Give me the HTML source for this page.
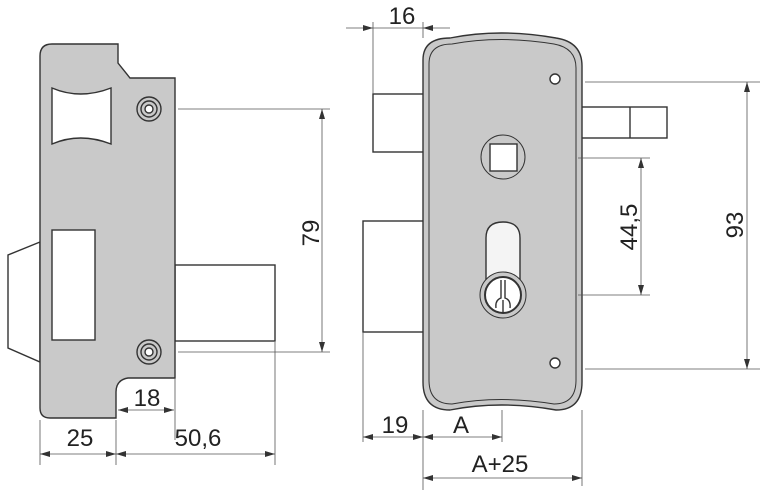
<!DOCTYPE html>
<html><head><style>html,body{margin:0;padding:0;background:#fff}svg{display:block}</style></head>
<body>
<svg width="768" height="492" viewBox="0 0 768 492" xmlns="http://www.w3.org/2000/svg" font-family="Liberation Sans, sans-serif">
<defs>
<marker id="a" markerWidth="10" markerHeight="6" refX="10" refY="3" orient="auto-start-reverse" markerUnits="userSpaceOnUse"><path d="M0,0 L10,3 L0,6 z" fill="#333"/></marker>
</defs>
<g stroke="#333" fill="none" stroke-width="1.4">
<path d="M40,242 L8,255 L8,348 L40,362 Z" fill="#fff"/>
<rect x="175" y="265" width="100" height="76" fill="#fff"/>
<path d="M52,44 L118,44 L118,63 L130,78 L175,78 L175,378 L128,378 Q116,380 116,392 L116,418 L50,418 Q40,418 40,408 L40,56 Q40,44 52,44 Z" fill="#c9c9c9"/>
<path d="M52,88 Q80,100 111,88 L111,144 Q80,132 52,144 Z" fill="#fff"/>
<rect x="52" y="230" width="43" height="110" fill="#fff"/>
<circle cx="149" cy="109" r="12" fill="#c9c9c9"/><circle cx="149" cy="109" r="8"/><circle cx="149" cy="109" r="4" fill="#fff"/>
<circle cx="149" cy="352" r="12" fill="#c9c9c9"/><circle cx="149" cy="352" r="8"/><circle cx="149" cy="352" r="4" fill="#fff"/>
</g>
<g stroke="#555" stroke-width="0.8" fill="none">
<path d="M178,109 H330 M178,352 H330 M175,378 V440 M40,420 V465 M116,420 V465 M275,342 V465"/>
<path d="M322,109 V352" marker-start="url(#a)" marker-end="url(#a)"/>
<path d="M118,410 H174" marker-start="url(#a)" marker-end="url(#a)"/>
<path d="M40,454 H116" marker-start="url(#a)" marker-end="url(#a)"/>
<path d="M116,454 H275" marker-start="url(#a)" marker-end="url(#a)"/>
</g>
<g font-size="24" fill="#222" text-anchor="middle">
<text x="147" y="406">18</text>
<text x="80" y="446">25</text>
<text x="198" y="446">50,6</text>
<text transform="translate(319,233) rotate(-90)">79</text>
</g>
<g stroke="#333" fill="none" stroke-width="1.4">
<rect x="373" y="94" width="52" height="58" fill="#fff"/>
<rect x="363" y="221" width="62" height="111" fill="#fff"/>
<rect x="580" y="107" width="87" height="31" fill="#fff"/>
<path d="M630,107 V138"/>
<path d="M423,60 Q423,38 450,38 Q500,28 556,38 Q582,42 582,66 L582,382 Q582,410 556,410 Q500,400 450,410 Q423,410 423,382 Z" fill="#c9c9c9"/>
<path d="M429,64 Q429,44 452,44 Q500,35 554,44 Q576,48 576,68 L576,380 Q576,404 554,404 Q500,395 452,404 Q429,404 429,380 Z" stroke-width="1"/>
<circle cx="555" cy="79" r="5" fill="#fff"/>
<circle cx="555" cy="363" r="5" fill="#fff"/>
<circle cx="503" cy="157" r="22" stroke-width="1"/>
<rect x="490" y="144" width="27" height="27" fill="#fff"/>
<path d="M486,300 L486,238 Q486,222 503,222 Q520,222 520,238 L520,300" fill="#f4f4f4"/>
<circle cx="503" cy="295" r="23" fill="#c9c9c9" stroke-width="1"/>
<circle cx="503" cy="295" r="18" fill="#fff" stroke-width="2"/>
<path d="M501,280 V298 Q495,300 496,308 M505,280 V298 Q511,300 510,308 M503,300 V312"/>
</g>
<g stroke="#555" stroke-width="0.8" fill="none">
<path d="M373,22 V94 M423,22 V38 M585,82 H760 M585,369 H760 M578,158 H650 M578,295 H650 M363,332 V442 M423,410 V490 M502,410 V442 M582,410 V486"/>
<path d="M346,28 H373" marker-end="url(#a)"/>
<path d="M450,28 H423" marker-end="url(#a)"/>
<path d="M423,28 H373"/>
<path d="M747,82 V369" marker-start="url(#a)" marker-end="url(#a)"/>
<path d="M641,158 V295" marker-start="url(#a)" marker-end="url(#a)"/>
<path d="M363,437 H423" marker-start="url(#a)" marker-end="url(#a)"/>
<path d="M423,437 H502" marker-start="url(#a)" marker-end="url(#a)"/>
<path d="M423,478 H582" marker-start="url(#a)" marker-end="url(#a)"/>
</g>
<g font-size="24" fill="#222" text-anchor="middle">
<text x="402" y="24">16</text>
<text x="395" y="433">19</text>
<text x="461" y="433">A</text>
<text x="500" y="472">A+25</text>
<text transform="translate(743,225) rotate(-90)">93</text>
<text transform="translate(637,227) rotate(-90)">44,5</text>
</g>
</svg>
</body></html>
